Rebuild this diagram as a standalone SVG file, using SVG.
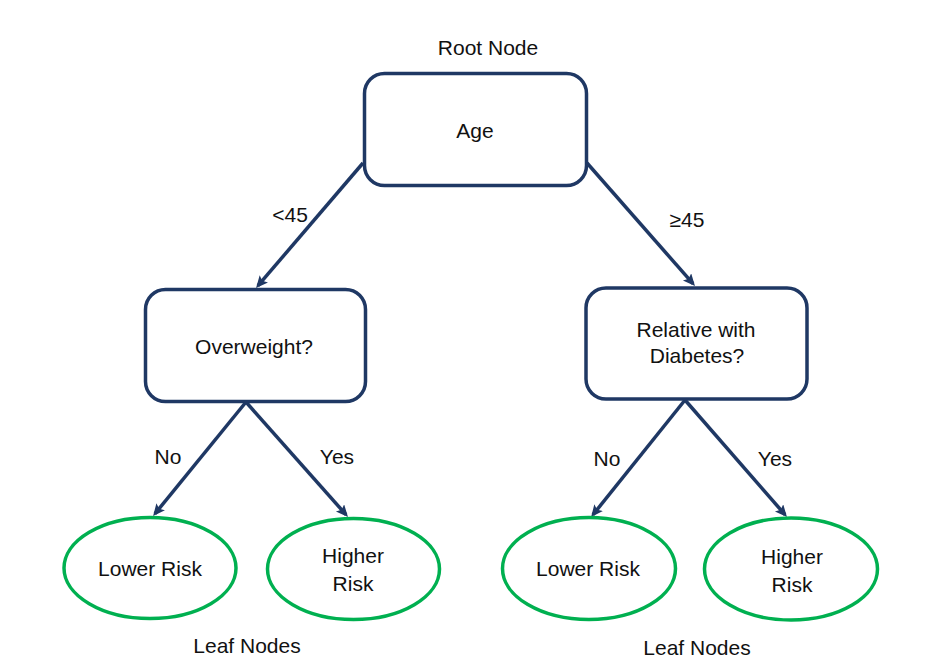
<svg xmlns="http://www.w3.org/2000/svg" width="941" height="666" viewBox="0 0 941 666">
<defs>
<marker id="arr" markerUnits="userSpaceOnUse" markerWidth="14" markerHeight="12" refX="9" refY="5.5" orient="auto">
<path d="M0,0 L12,5.5 L0,11 L2.5,5.5 z" fill="#1F3864"/>
</marker>
<style>
.box{fill:#fff;stroke:#1F3864;stroke-width:3.5}
.leaf{fill:#fff;stroke:#00B050;stroke-width:3.5}
.conn{stroke:#1F3864;stroke-width:3.5;fill:none;marker-end:url(#arr)}
text{font-family:"Liberation Sans","Noto Sans",Arial,sans-serif;font-size:21px;fill:#111;text-anchor:middle}
</style>
</defs>
<rect width="941" height="666" fill="#fff"/>
<g id="connectors">
<line class="conn" x1="363" y1="163" x2="258" y2="285.7"/>
<line class="conn" x1="587" y1="163" x2="693" y2="283.7"/>
<line class="conn" x1="246" y1="402" x2="155" y2="513.7"/>
<line class="conn" x1="246" y1="402" x2="346" y2="514.7"/>
<line class="conn" x1="685" y1="400" x2="593" y2="514.7"/>
<line class="conn" x1="685" y1="400" x2="785" y2="514.7"/>
<text x="290" y="222">&lt;45</text>
<text x="687" y="227">≥45</text>
<text x="168" y="464">No</text>
<text x="337" y="464">Yes</text>
<text x="607" y="466">No</text>
<text x="775" y="466">Yes</text>
</g>
<g id="root-label"><text x="488" y="55">Root Node</text></g>
<g id="node-age">
<rect class="box" x="364.5" y="73.5" width="222" height="112" rx="20"/>
<text x="475" y="138">Age</text>
</g>
<g id="node-overweight">
<rect class="box" x="145.5" y="289.5" width="220" height="112" rx="20"/>
<text x="254" y="354">Overweight?</text>
</g>
<g id="node-relative">
<rect class="box" x="586" y="288" width="221" height="111" rx="20"/>
<text x="696" y="337">Relative with</text>
<text x="697" y="363">Diabetes?</text>
</g>
<g id="leaf-1">
<ellipse class="leaf" cx="150" cy="568" rx="86" ry="50.5"/>
<text x="150" y="576">Lower Risk</text>
</g>
<g id="leaf-2">
<ellipse class="leaf" cx="353.5" cy="569" rx="86" ry="50.5"/>
<text x="353" y="563">Higher</text>
<text x="353" y="591">Risk</text>
</g>
<g id="leaf-3">
<ellipse class="leaf" cx="589" cy="568.5" rx="86.5" ry="51"/>
<text x="588" y="576">Lower Risk</text>
</g>
<g id="leaf-4">
<ellipse class="leaf" cx="791" cy="569" rx="86.5" ry="51"/>
<text x="792" y="564">Higher</text>
<text x="792" y="592">Risk</text>
</g>
<g id="leaf-labels">
<text x="247" y="653">Leaf Nodes</text>
<text x="697" y="655">Leaf Nodes</text>
</g>
</svg>
